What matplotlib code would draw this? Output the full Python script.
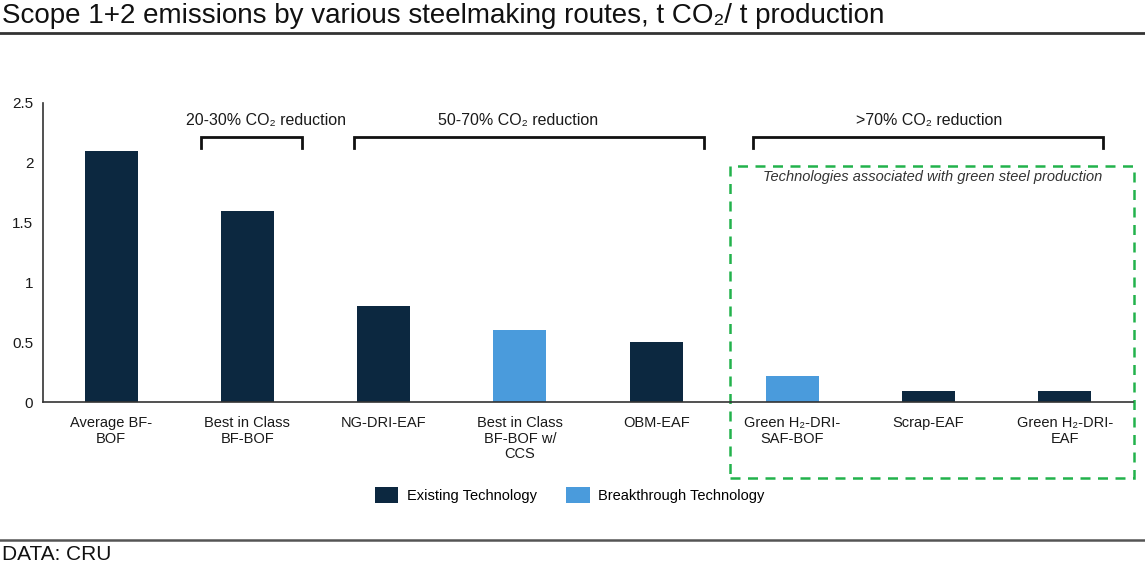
import matplotlib
matplotlib.use('Agg')
import matplotlib.pyplot as plt
from matplotlib.patches import Patch, Rectangle
from matplotlib.lines import Line2D

plt.rcParams['font.family'] = ['Liberation Sans', 'DejaVu Sans']

routes = ['Average BF-\nBOF', 'Best in Class\nBF-BOF', 'NG-DRI-EAF',
          'Best in Class\nBF-BOF w/\nCCS', 'OBM-EAF', 'Green H\u2082-DRI-\nSAF-BOF',
          'Scrap-EAF', 'Green H\u2082-DRI-\nEAF']
emissions = [2.1, 1.6, 0.8, 0.6, 0.5, 0.22, 0.09, 0.09]
tech = ['Existing', 'Existing', 'Existing', 'Breakthrough', 'Existing',
        'Breakthrough', 'Existing', 'Existing']
y_ticks = [0, 0.5, 1, 1.5, 2, 2.5]
y_tick_labels = ['0', '0.5', '1', '1.5', '2', '2.5']

# reduction groups: label, bracket start, bracket end, label x
groups = [('20-30% CO\u2082 reduction', 0.66, 1.40, 1.14),
          ('50-70% CO\u2082 reduction', 1.78, 4.35, 2.99),
          ('>70% CO\u2082 reduction', 4.71, 7.28, 6.0)]

navy = '#0c2840'
lightblue = '#4a9bdc'
colors = {'Existing': navy, 'Breakthrough': lightblue}

fig = plt.figure(figsize=(11.45, 5.66), dpi=100)
ax = fig.add_axes([43 / 1145, 164 / 566, 1090 / 1145, 299 / 566])

x = range(len(routes))
ax.bar(x, emissions, width=0.39, color=[colors[t] for t in tech])
ax.set_xlim(-0.5, 7.5)
ax.set_ylim(0, 2.5)
ax.set_yticks(y_ticks)
ax.set_yticklabels(y_tick_labels)
ax.set_xticks(list(x))
ax.set_xticklabels(routes, fontsize=10.5, color='#1a1a1a', linespacing=1.15)
ax.tick_params(axis='y', length=0, pad=7, labelsize=11, labelcolor='#1a1a1a')
ax.tick_params(axis='x', length=0, pad=10)
for s in ['top', 'right']:
    ax.spines[s].set_visible(False)
for s in ['left', 'bottom']:
    ax.spines[s].set_color('#333333')
    ax.spines[s].set_linewidth(1.2)

# brackets
for label, x0, x1, xt in groups:
    ax.plot([x0, x0, x1, x1], [2.124, 2.216, 2.216, 2.124], color='#111111',
            lw=2, clip_on=False, solid_joinstyle='miter')
    ax.text(xt, 2.35, label, ha='center', va='center', fontsize=11.5, color='#1a1a1a')

# green steel box
box = Rectangle((4.54, -0.635), 2.97, 2.605, fill=False, edgecolor='#22b24c',
                lw=1.8, ls=(0, (4, 3)), clip_on=False)
ax.add_patch(box)
ax.text(6.03, 1.88, 'Technologies associated with green steel production',
        ha='center', va='center', fontsize=10.5, style='italic', color='#333333')

# legend
handles = [Patch(facecolor=navy, label='Existing Technology'),
           Patch(facecolor=lightblue, label='Breakthrough Technology')]
fig.legend(handles=handles, loc='center', bbox_to_anchor=(570 / 1145, 1 - 495 / 566),
           ncol=2, frameon=False, fontsize=10.5, handlelength=1.6, handleheight=1.4,
           columnspacing=2.0, handletextpad=0.6)

# title, rules and source
fig.text(2 / 1145, 1 - 16 / 566, 'Scope 1+2 emissions by various steelmaking routes, t CO\u2082/ t production',
         ha='left', va='center', fontsize=20, color='#111111')
fig.add_artist(Line2D([0, 1], [1 - 33 / 566, 1 - 33 / 566], color='#333333', lw=2))
fig.add_artist(Line2D([0, 1], [1 - 540 / 566, 1 - 540 / 566], color='#555555', lw=1.8))
fig.text(2 / 1145, 1 - 554 / 566, 'DATA: CRU', ha='left', va='center', fontsize=15, color='#111111')

fig.savefig('out.png', dpi=100)
